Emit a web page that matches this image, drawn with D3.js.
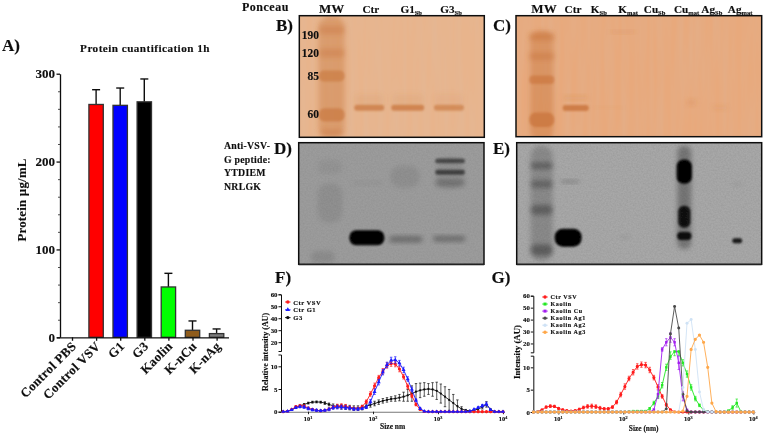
<!DOCTYPE html>
<html><head><meta charset="utf-8">
<script src="https://cdn.jsdelivr.net/npm/d3@7"></script>
<style>
html,body{margin:0;padding:0;background:#fff}
svg{display:block}
text{font-family:"Liberation Serif",serif;font-weight:700;fill:#111;stroke:#111;stroke-width:.15}
</style></head><body>
<svg id="c" width="764" height="434"></svg>
<script>
// ---------- panel A data
const barCategories=["Control PBS","Control VSV","G1","G3","Kaolin","K-nCu","K-nAg"];
const barValues=[0,265,264,268,57.3,8,4.2];
const barErrors=[0,16.8,19.7,26,15.5,10.6,5.3];
const barColors=["#ffffff","#ff0000","#0000ff","#000000","#00ff00","#8f5c1c","#7d7d7d"];
const barTicks=[0,100,200,300];
const barMinorTicks=[20,40,60,80,120,140,160,180,220,240,260,280];

// ---------- DLS data (F, G)
const sizes=[4.145,4.849,5.615,6.503,7.531,8.721,10.1,11.7,13.54,15.69,
18.17,21.04,24.36,28.21,32.67,37.84,43.82,50.75,58.77,68.06,
78.82,91.28,105.7,122.4,141.8,164.2,190.1,220.2,255,295.3,
342,396.1,458.7,531.2,615.1,712.4,825,955.4,1106,1281,
1484,1718,1990,2305,2669,3091,3580,4145,4801,5560,
6439,7456,8635,10000];
const ctrVSV=[0,.1,.5,1.1,1.3,1.25,.8,.5,.3,.2,
.3,.6,1,1.25,1.3,1.2,.9,.7,.7,1.1,
2.2,3.9,5.7,7.5,8.9,10.2,10.6,10.5,9.4,7.7,
5.6,3.5,1.6,.5,.05,0,0,0,0,0,
0,0,0,0,0,0,0,0,0,0,
0,0,0,0];
const ctrVSVErr=[0,.05,.1,.25,.3,.25,.2,.2,.15,.15,
.15,.25,.3,.4,.45,.4,.35,.3,.3,.3,
.4,.5,.6,.5,.6,.6,.6,.6,.6,.5,
.5,.4,.3,.15,.05,0,0,0,0,0,
0,0,0,0,0,0,0,0,0,0,
0,0,0,0];
const ctrG1=[0,.1,.4,.9,1.1,1,.7,.4,.3,.2,
.3,.5,.9,1,1,.9,.8,.6,.6,.7,
1,2.2,4.4,6.5,8.7,10.3,11.3,11.4,10.7,9.2,
7.2,4.9,2.5,.7,.1,0,0,0,0,0,
0,0,0,0,0,.1,.5,.9,1.3,1.7,
.4,0,0,0];
const ctrG1Err=[0,.05,.1,.2,.25,.3,.3,.25,.25,.2,
.2,.3,.4,.4,.4,.4,.3,.3,.3,.2,
.3,.5,.6,.6,.6,.6,.7,.7,.6,.6,
.5,.5,.3,.2,.05,0,0,0,0,0,
0,0,0,0,0,.05,.1,.2,.3,.4,
.1,0,0,0];
const g3=[0,.1,.4,.9,1.3,1.6,1.9,2.1,2.15,2.1,
1.9,1.6,1.3,1.15,1.05,1,.9,.8,.8,.9,
1.2,1.5,1.8,2.1,2.4,2.6,2.8,2.9,3.1,3.3,
3.6,4,4.4,4.7,4.9,5,4.9,4.6,4,3.3,
2.6,1.9,1.2,.6,.3,.2,.3,.6,1,1.6,
.5,0,0,0];
const g3Err=[0,.05,.1,.2,.2,.2,.2,.2,.2,.2,
.3,.3,.4,.4,.5,.5,.5,.5,.5,.5,
.5,.5,.5,.5,.5,.5,.5,.6,.7,1,
1.3,1.7,1.8,1.6,1.5,1.2,1.5,1.9,2.1,2.2,
2.3,1.9,1.4,.5,.2,.1,.2,.3,.4,.6,
.1,0,0,0];
const kaolin=[0,0,0,0,0,0,0,0,0,0,
0,0,0,0,0,0,0,0,0,0,
0,0,0,.1,.2,.2,.2,.2,.8,2,
3.5,6,10,12.4,13.2,13.2,11,8.5,5.5,3,
1.5,.4,.05,0,0,0,0,.3,1,2,
.1,0,0,0];
const kaolinErr=[0,0,0,0,0,0,0,0,0,0,
0,0,0,0,0,0,0,0,0,0,
0,0,0,.05,.1,.1,.1,.1,.2,.4,
.5,.6,.7,.6,.6,.6,.7,.7,.6,.5,
.3,.2,.05,0,0,0,0,.1,.4,.9,
.05,0,0,0];
const kaolinCu=[0,0,0,0,0,0,0,0,0,0,
0,0,0,0,0,0,0,0,0,0,
0,0,0,0,0,0,0,0,0,.5,
4,15,21,25,21,11,3.5,.4,0,0,
0,0,0,0,0,0,0,0,0,0,
0,0,0,0];
const kaolinCuErr=[0,0,0,0,0,0,0,0,0,0,
0,0,0,0,0,0,0,0,0,0,
0,0,0,0,0,0,0,0,0,.2,
.9,1.5,3,4,3,1.5,1,.3,0,0,
0,0,0,0,0,0,0,0,0,0,
0,0,0,0];
const kaolinAg1=[0,0,0,0,0,0,0,0,0,0,
0,0,0,0,0,0,0,0,0,0,
0,0,0,0,0,0,0,0,0,0,
0,0,.7,28,51,33,4,.2,0,0,
0,0,0,0,0,0,0,0,0,0,
0,0,0,0];
const kaolinAg2=[0,0,0,0,0,0,0,0,0,0,
0,0,0,0,0,0,0,0,0,0,
0,0,0,0,0,0,0,0,0,0,
0,0,0,0,0,0,5.5,37,40,15,
4.5,.5,0,0,0,0,0,0,0,0,
0,0,0,0];
const kaolinAg3=[0,0,0,0,0,0,0,0,0,0,
0,0,0,0,0,0,0,0,0,0,
0,0,0,0,0,0,0,0,0,0,
0,0,0,0,0,0,.2,3.5,15,23.5,
27,21,10,2,.1,0,0,0,0,0,
0,0,0,0];
const yTicksLow=[0,5,10];
const yTicksHigh=[20,30,40,50,60];
const logTicks=[10,100,1000,10000];

// ---------- gels: [x % of gel, migration %, width %, height %, strength]
const gelBLanes=["MW","Ctr","G1|Sb","G3|Sb"];
const gelBLabelPos=[17.5,38.7,60.5,82];
const gelCLanes=["MW","Ctr","K|Sb","K|mat","Cu|Sb","Cu|mat","Ag|Sb","Ag|mat"];
const gelCLabelPos=[11.4,23.2,33.7,45.6,56.4,69.4,79.7,91.2];
const mwLabels=["190","120","85","60"];
const mwMigration=[16,30.7,49.6,80.7];
const bandsB=[[17.5,50,14,100,.42],[17.5,11.8,14,7,.4],[17.5,30.7,14,7,.4],[17.5,49.6,14,9,.6],[17.5,81.6,14,11,.65],[17.5,96.4,13,6,.4],
[37.8,75.7,16.2,5,.72],[58.6,75.7,17.8,5,.75],[80.9,75.7,16.2,5,.62],[37.8,69,16,9,.1],[58.6,69,17,9,.1],[80.9,69,16,9,.08]];
const bandsC=[[10.5,58,9.5,92,.38],[10.5,17.3,10.2,6,.45],[10.5,33.7,10.2,6,.4],[10.5,52.9,10.2,7,.55],[10.5,86,10.2,12,.65],
[24.3,76.2,10.6,5,.75],[24.3,67.7,10,3,.18],[37.4,76,12,1.5,.1],[43.5,13.2,10,2,.22],[71.5,71.8,4,5,.18],[83,76,6,4,.1]];
const bandsD=[[36.8,78.1,18.9,12.3,1],[57.8,79.4,17.8,5,.32],[81.2,79,17.3,4.5,.32],
[81.7,15,16,4,.5],[81.7,24.3,16,4,.55],[81.7,33.1,16,6,.22],[81.7,25,15,26,.08],
[57.4,28,16,18,.08],[16.9,49.6,13.5,33,.08],[16.9,20,13.5,12,.05],[13,94,13,10,.1],[36.9,33.1,16,3,.06]];
const bandsE=[[10.2,50,9,95,.18],[10.2,18.9,9,5,.32],[10.2,34,9,6,.28],[10.2,55.3,9,8,.3],[10.2,88.2,9,9,.32],
[21,78.1,11,14.8,1],[21.8,32,7.5,2.5,.22],
[68.4,45,5.6,85,.3],[68.4,23.8,6.2,20,1],[68.4,60.9,5,18,.85],[68.4,76.7,5.8,6.6,.9],
[90,80.6,4,4,.85],[90,34,4,3,.07],[44.3,77.5,4,3,.07]];

// ---------- drawing
const svg=d3.select("#c");
const defs=svg.append("defs");
const root=svg.append("g").attr("filter","url(#soft)");
function blur(id,s){defs.append("filter").attr("id",id).attr("x","-50%").attr("y","-50%").attr("width","200%").attr("height","200%")
  .append("feGaussianBlur").attr("stdDeviation",s);}
blur("b1",1.3);blur("b2",2.4);
defs.append("filter").attr("id","soft").attr("filterUnits","userSpaceOnUse").attr("x",0).attr("y",0).attr("width",764).attr("height",434)
  .append("feGaussianBlur").attr("stdDeviation",0.45);
function noise(id,freq,seed,alpha,rgb){
  const f=defs.append("filter").attr("id",id).attr("x",0).attr("y",0).attr("width","100%").attr("height","100%");
  f.append("feTurbulence").attr("type","fractalNoise").attr("baseFrequency",freq).attr("numOctaves",2).attr("seed",seed);
  f.append("feColorMatrix").attr("values",`0 0 0 0 ${rgb} 0 0 0 0 ${rgb} 0 0 0 0 ${rgb} ${alpha} 0 0 0 ${-alpha*0.3}`);
}
noise("grainPon","0.14 0.01",4,.22,.6);
noise("grainGray","0.6 0.6",7,.45,.2);

const txt=(g,x,y,s,size,anchor)=>g.append("text").attr("x",x).attr("y",y).attr("font-size",size).attr("text-anchor",anchor||"start").text(s);

// ---- Panel A
(function(){
  const g=root.append("g");
  const x=d3.scalePoint().domain(barCategories).range([72,216.6]);
  const y=d3.scaleLinear().domain([0,300]).range([337.3,73.7]);
  const bw=14.4;
  txt(g,2,51,"A)",17);
  txt(g,145,52,"Protein cuantification 1h",11.2,"middle").attr("letter-spacing",".45");
  g.append("text").attr("transform","translate(26,200) rotate(-90)").attr("text-anchor","middle").attr("font-size",12.8).attr("letter-spacing",".25").text("Protein µg/mL");
  const bars=g.selectAll(".bar").data(barCategories).enter().append("g");
  bars.filter((d,i)=>barValues[i]>0).each(function(d){
    const i=barCategories.indexOf(d),s=d3.select(this),cx=x(d);
    const top=y(barValues[i]+barErrors[i]);
    s.append("line").attr("x1",cx).attr("x2",cx).attr("y1",y(barValues[i])).attr("y2",top).attr("stroke","#111").attr("stroke-width",1.4);
    s.append("line").attr("x1",cx-4).attr("x2",cx+4).attr("y1",top).attr("y2",top).attr("stroke","#111").attr("stroke-width",1.4);
    s.append("rect").attr("x",cx-bw/2).attr("width",bw).attr("y",y(barValues[i])).attr("height",y(0)-y(barValues[i]))
      .attr("fill",barColors[i]).attr("stroke","#333").attr("stroke-width",1.3);
  });
  const ya=g.append("g").attr("transform","translate(60,0)").call(d3.axisLeft(y).tickValues(barTicks).tickSize(3.5).tickPadding(1.5).tickSizeOuter(0));
  ya.selectAll("text").attr("font-size",13).attr("font-family","Liberation Serif");
  ya.selectAll("path,line").attr("stroke","#111").attr("stroke-width",1.3);
  g.append("g").attr("transform","translate(60,0)").call(d3.axisLeft(y).tickValues(barMinorTicks).tickSize(2).tickFormat("").tickSizeOuter(0))
    .call(a=>{a.select("path").remove();a.selectAll("line").attr("stroke","#222").attr("stroke-width",.8);});
  const xa=g.append("g").attr("transform","translate(0,337.3)").call(d3.axisBottom(x).tickSize(3.5).tickSizeOuter(0).tickFormat(""));
  xa.select("path").attr("d","M57,0.5H229").attr("stroke","#111").attr("stroke-width",1.3);
  xa.selectAll("line").attr("stroke","#111").attr("stroke-width",1.3);
  barCategories.forEach(c=>{
    g.append("text").attr("transform",`translate(${x(c)+5},${347}) rotate(-45)`).attr("text-anchor","end").attr("font-size",12.8).attr("letter-spacing",".35").text(c);
  });
})();

// ---- Gels
function gel(id,x0,x1,y0,y1,bg,bandColor,bands,grain){
  const sx=d3.scaleLinear().domain([0,100]).range([x0,x1]);
  const sy=d3.scaleLinear().domain([0,100]).range([y0,y1]);
  const sw=d3.scaleLinear().domain([0,100]).range([0,x1-x0]);
  const sh=d3.scaleLinear().domain([0,100]).range([0,y1-y0]);
  defs.append("clipPath").attr("id",id).append("rect").attr("x",x0).attr("y",y0).attr("width",x1-x0).attr("height",y1-y0);
  const g=root.append("g");
  const inner=g.append("g").attr("clip-path",`url(#${id})`);
  inner.append("rect").attr("x",x0).attr("y",y0).attr("width",x1-x0).attr("height",y1-y0).attr("fill",bg);
  inner.append("rect").attr("x",x0).attr("y",y0).attr("width",x1-x0).attr("height",y1-y0).attr("filter",`url(#${grain})`);
  inner.selectAll(".band").data(bands).enter().append("rect")
    .attr("x",d=>sx(d[0])-sw(d[2])/2).attr("y",d=>sy(d[1])-sh(d[3])/2)
    .attr("width",d=>sw(d[2])).attr("height",d=>sh(d[3]))
    .attr("rx",d=>Math.min(sw(d[2]),sh(d[3]))*.45)
    .attr("fill",bandColor).attr("fill-opacity",d=>d[4])
    .attr("filter",d=>d[4]<.5?"url(#b2)":"url(#b1)");
  g.append("rect").attr("x",x0).attr("y",y0).attr("width",x1-x0).attr("height",y1-y0).attr("fill","none").attr("stroke","#111").attr("stroke-width",1.5);
  return sx;
}
const gb=gel("cB",299.3,484.3,15.7,137.3,"#e8b48c","#c8763e",bandsB,"grainPon");
const gc=gel("cC",516,761.7,15.7,136.7,"#e8a97c","#c66f34",bandsC,"grainPon");
gel("cD",298.7,484,142.7,264.3,"#9c9c9c","#000",bandsD,"grainGray");
gel("cE",516.7,761.7,142.7,264.3,"#a8a8a8","#000",bandsE,"grainGray");
root.append("line").attr("x1",298.7).attr("x2",484).attr("y1",265.4).attr("y2",265.4).attr("stroke","#bbb").attr("stroke-width",1);
root.append("line").attr("x1",516.7).attr("x2",761.7).attr("y1",265.4).attr("y2",265.4).attr("stroke","#bbb").attr("stroke-width",1);

const lab=root.append("g");
txt(lab,242,10.5,"Ponceau",12).attr("letter-spacing",".5");
function laneLabels(names,pos,scale,size,subSize){
  names.forEach((n,i)=>{
    const [a,b]=n.split("|");
    const t=lab.append("text").attr("x",scale(pos[i])).attr("y",12.5).attr("text-anchor","middle").attr("font-size",n==="MW"?13:size);
    t.append("tspan").text(a);
    if(b)t.append("tspan").attr("font-size",subSize).attr("dy",2).text(b);
  });
}
laneLabels(gelBLanes,gelBLabelPos,gb,11.2,6.5);
laneLabels(gelCLanes,gelCLabelPos,gc,11.2,6.5);
const mwY=d3.scaleLinear().domain([0,100]).range([15.7,137.3]);
mwLabels.forEach((m,i)=>txt(lab,319,mwY(mwMigration[i]),m,11.5,"end").attr("dominant-baseline","central"));
[["B)",276,31],["C)",493,31],["D)",274,154],["E)",493,154],["F)",275,282.5],["G)",491.5,282.5]].forEach(d=>txt(lab,d[1],d[2],d[0],17));
["Anti-VSV-","G peptide:","YTDIEM","NRLGK"].forEach((s,i)=>txt(lab,224,[149,162.5,176,190][i],s,9.8).attr("letter-spacing",".25"));

// ---- DLS panels
function dls(o){
  const g=root.append("g");
  const x=d3.scaleLog().domain([10,10000]).range([o.x10,o.x10+195]);
  const y=d3.scaleLinear().domain([0,12.6,12.6001,60]).range([o.y0,o.yLowTop,o.yHighBot,o.yTop]);
  const yLow=d3.scaleLinear().domain([0,12.6]).range([o.y0,o.yLowTop]);
  const yHigh=d3.scaleLinear().domain([12.6,60]).range([o.yHighBot,o.yTop]);
  const styl=a=>{a.selectAll("path,line").attr("stroke","#111").attr("stroke-width",1);a.selectAll("text").attr("font-size",6.8).attr("font-family","Liberation Serif");};
  const ax=o.axisX;
  g.append("g").attr("transform",`translate(${ax},0)`).call(d3.axisLeft(yLow).tickValues(yTicksLow).tickSize(2.5).tickPadding(1).tickSizeOuter(2.5)).call(styl);
  g.append("g").attr("transform",`translate(${ax},0)`).call(d3.axisLeft(yHigh).tickValues(yTicksHigh).tickSize(2.5).tickPadding(1).tickSizeOuter(2.5)).call(styl);
  const xa=g.append("g").attr("transform",`translate(0,${o.y0})`)
    .call(d3.axisBottom(x).tickValues(logTicks).tickSize(2.5).tickPadding(2).tickSizeOuter(0).tickFormat(""));
  xa.select("path").attr("d",`M${ax},0.5H${x(10000)+2}`).attr("stroke","#777").attr("stroke-width",1.1);
  xa.selectAll("line").attr("stroke","#111").attr("stroke-width",.9);
  logTicks.forEach(t=>{
    const l=g.append("text").attr("x",x(t)).attr("y",o.y0+9).attr("text-anchor","middle").attr("font-size",6.4);
    l.append("tspan").text("10");
    l.append("tspan").attr("font-size",4.2).attr("dy",-2).text(Math.log10(t));
  });
  g.append("text").attr("transform",`translate(${o.ylabX},352) rotate(-90)`).attr("text-anchor","middle").attr("font-size",o.ylabSize).text(o.ylab);
  txt(g,o.xlabX,o.xlabY,o.xlab,o.xlabSize,"middle");
  const line=d3.line().x(d=>x(d[0])).y(d=>y(d[1]));
  o.series.forEach(s=>{
    const sg=g.append("g");
    const pts=sizes.map((z,i)=>[z,s.values[i],s.err?s.err[i]:0]);
    if(s.err){
      pts.filter(p=>p[2]>0).forEach(p=>{
        const px=x(p[0]),a=y(Math.max(0,p[1]-p[2])),b=y(p[1]+p[2]);
        sg.append("line").attr("x1",px).attr("x2",px).attr("y1",a).attr("y2",b).attr("stroke",s.color).attr("stroke-width",.7);
        sg.append("line").attr("x1",px-1.2).attr("x2",px+1.2).attr("y1",b).attr("y2",b).attr("stroke",s.color).attr("stroke-width",.7);
        sg.append("line").attr("x1",px-1.2).attr("x2",px+1.2).attr("y1",a).attr("y2",a).attr("stroke",s.color).attr("stroke-width",.7);
      });
    }
    sg.append("path").attr("d",line(pts)).attr("fill","none").attr("stroke",s.color).attr("stroke-width",.9);
    sg.selectAll("path.m").data(pts).enter().append("path").attr("class","m")
      .attr("d",d3.symbol(s.shape||d3.symbolCircle,s.msize||7))
      .attr("transform",d=>`translate(${x(d[0])},${y(d[1])})`).attr("fill",s.color);
  });
  o.legend.forEach((s,i)=>{
    const ly=o.legY+i*o.legStep;
    const lx=o.legX;
    g.append("line").attr("x1",lx-2.8).attr("x2",lx+2.8).attr("y1",ly).attr("y2",ly).attr("stroke",s.color).attr("stroke-width",.9);
    g.append("path").attr("d",d3.symbol(s.shape||d3.symbolCircle,9)).attr("transform",`translate(${lx},${ly})`).attr("fill",s.color);
    txt(g,lx+5.5,ly,s.name,o.legSize).attr("dominant-baseline","central").attr("letter-spacing",o.legSpacing);
  });
}
const sVSV={name:"Ctr VSV",values:ctrVSV,err:ctrVSVErr,color:"#ff1a1a",msize:8};
const sG1={name:"Ctr G1",values:ctrG1,err:ctrG1Err,color:"#1a1aff",shape:d3.symbolTriangle,msize:7};
const sG3={name:"G3",values:g3,err:g3Err,color:"#111",msize:4};
dls({x10:308,axisX:281,y0:411.7,yLowTop:354.5,yHighBot:351,yTop:294.3,
  ylab:"Relative intensity (AU)",ylabX:268,ylabSize:8,xlab:"Size nm",xlabX:392.7,xlabY:429,xlabSize:7.5,
  series:[sG3,sVSV,sG1],legend:[sVSV,sG1,sG3],legX:287.8,legY:302,legStep:7.8,legSize:6.6,legSpacing:".5"});
dls({x10:558.3,axisX:533.3,y0:412,yLowTop:355.7,yHighBot:352.3,yTop:295.7,
  ylab:"Intensity (AU)",ylabX:520,ylabSize:8.8,xlab:"Size (nm)",xlabX:643.7,xlabY:431,xlabSize:7.4,
  series:[sVSV,
    {name:"Kaolin",values:kaolin,err:kaolinErr,color:"#22e822",shape:d3.symbolSquare,msize:6},
    {name:"Kaolin Cu",values:kaolinCu,err:kaolinCuErr,color:"#a31ff0",shape:d3.symbolSquare,msize:6},
    {name:"Kaolin Ag1",values:kaolinAg1,color:"#4a4a4a",msize:7},
    {name:"Kaolin Ag2",values:kaolinAg2,color:"#cfe2f5",msize:7},
    {name:"Kaolin Ag3",values:kaolinAg3,color:"#ffa748",msize:8}
  ],
  legend:[sVSV,{name:"Kaolin",color:"#22e822",shape:d3.symbolSquare},{name:"Kaolin Cu",color:"#a31ff0",shape:d3.symbolSquare},
    {name:"Kaolin Ag1",color:"#4a4a4a"},{name:"Kaolin Ag2",color:"#cfe2f5"},{name:"Kaolin Ag3",color:"#ffa748"}],
  legX:545,legY:297,legStep:7.05,legSize:6.1,legSpacing:".6"});
</script></body></html>
